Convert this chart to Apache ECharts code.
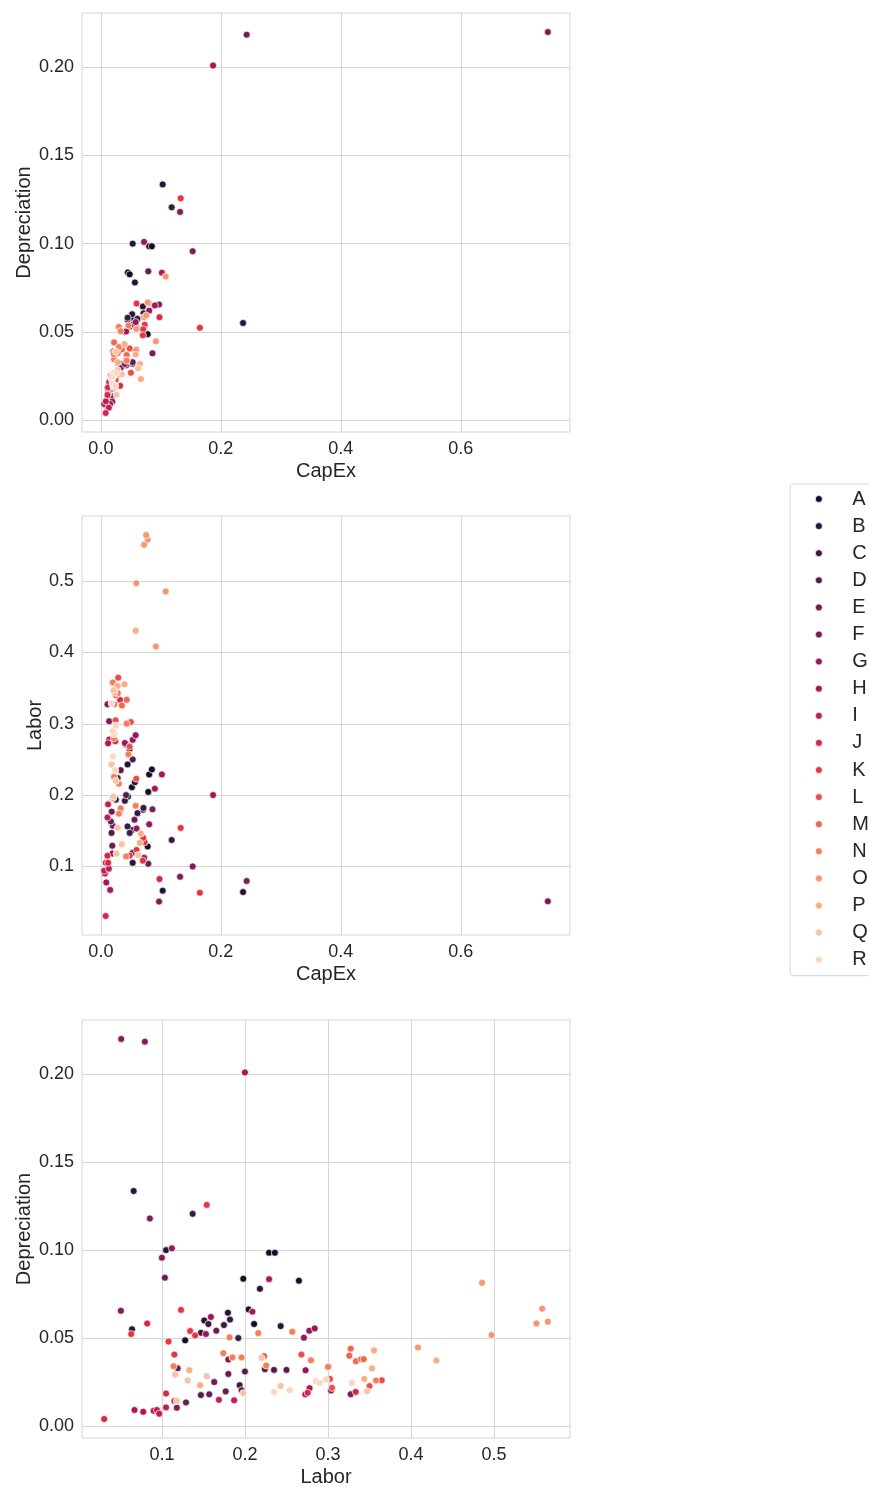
<!DOCTYPE html>
<html>
<head>
<meta charset="utf-8">
<script src="https://cdn.jsdelivr.net/npm/echarts@6/dist/echarts.min.js"></script>
<style>
  html, body { margin: 0; padding: 0; background: #ffffff; }
  #chart { width: 869px; height: 1488px; }
</style>
</head>
<body>
<div id="chart"></div>
<script>
// Category names and the "rocket" palette used for the hue
const categories = ['A','B','C','D','E','F','G','H','I','J','K','L','M','N','O','P','Q','R'];
const palette = ['#150C27','#281435','#3B1A41','#511C4A','#671E53','#7D1D57','#931A58','#AA1759','#BD2052',
                 '#D12A49','#E23743','#E94F48','#EF684E','#F3805B','#F59772','#F6AE88','#F7C3A4','#F9D7C0'];

// Observations per category: [CapEx, Labor, Depreciation]
const A = [[0.0805,0.229,0.0985],[0.085,0.236,0.0985],[0.045,0.198,0.0837],[0.048,0.265,0.0826],
           [0.079,0.2045,0.0663],[0.078,0.128,0.0487],[0.0517,0.211,0.058]];
const B = [[0.103,0.066,0.1336],[0.237,0.064,0.055],[0.053,0.105,0.100],[0.0567,0.218,0.078],
           [0.070,0.1795,0.0644],[0.0445,0.243,0.0568],[0.052,0.151,0.060]];
const C = [[0.118,0.137,0.1206],[0.071,0.182,0.0605],[0.061,0.1747,0.0574],[0.0445,0.156,0.058],
           [0.048,0.147,0.053],[0.040,0.192,0.050],[0.025,0.1936,0.0232]];
const D = [[0.0178,0.147,0.0176],[0.042,0.200,0.031],[0.028,0.224,0.0323],[0.033,0.235,0.0319],
           [0.053,0.250,0.0319]];
const E = [[0.079,0.1036,0.0843],[0.053,0.119,0.0328],[0.020,0.157,0.018],[0.056,0.1655,0.0542],
           [0.0167,0.163,0.025],[0.033,0.180,0.0296],[0.020,0.196,0.0204],[0.018,0.1768,0.0197],
           [0.019,0.129,0.0134]];
const F = [[0.745,0.051,0.220],[0.243,0.0795,0.2185],[0.132,0.0855,0.118],[0.153,0.100,0.0957],
           [0.097,0.0506,0.0655],[0.086,0.180,0.0378],[0.019,0.118,0.0104],[0.011,0.3273,0.0181],
           [0.0138,0.3036,0.0202]];
const G = [[0.072,0.112,0.101],[0.0805,0.159,0.062],[0.0595,0.153,0.0523],[0.042,0.271,0.0502],
           [0.053,0.2775,0.0542],[0.058,0.284,0.0555],[0.040,0.273,0.0317]];
const H = [[0.187,0.200,0.201],[0.1017,0.229,0.0835],[0.090,0.209,0.065],[0.014,0.2778,0.0215],
           [0.012,0.2727,0.018],[0.0155,0.067,0.0091],[0.009,0.0775,0.0081]];
const I = [[0.0067,0.090,0.0087],[0.0055,0.094,0.0091],[0.0083,0.105,0.0106],[0.0133,0.0968,0.007],
           [0.011,0.1686,0.0149],[0.012,0.187,0.0146]];
const J = [[0.008,0.0305,0.004],[0.0977,0.0823,0.0583],[0.012,0.105,0.0185],[0.011,0.115,0.0142],
           [0.024,0.2755,0.0189],[0.032,0.3334,0.0194]];
const K = [[0.133,0.154,0.1257],[0.165,0.063,0.0523],[0.0595,0.123,0.066],[0.073,0.134,0.054],
           [0.0705,0.140,0.0515],[0.070,0.108,0.048],[0.048,0.115,0.0406]];
const L = [[0.059,0.223,0.0397],[0.048,0.268,0.0406],[0.043,0.3008,0.0338],[0.050,0.3024,0.0268],
           [0.0245,0.3048,0.0217],[0.0245,0.350,0.0227],[0.029,0.3647,0.026]];
const M = [[0.022,0.3273,0.044],[0.035,0.3257,0.040],[0.043,0.3337,0.0368],[0.025,0.340,0.038],
           [0.028,0.343,0.038]];
const N = [[0.042,0.114,0.034],[0.030,0.216,0.0528],[0.046,0.257,0.0536],[0.033,0.1815,0.0504],
           [0.030,0.174,0.0414],[0.058,0.185,0.039],[0.0205,0.196,0.039],[0.022,0.2256,0.0344],
           [0.0217,0.2795,0.0374],[0.043,0.300,0.0336],[0.020,0.3578,0.0259]];
const O = [[0.108,0.4855,0.0814],[0.078,0.558,0.0667],[0.072,0.551,0.0583],[0.0755,0.5647,0.0593],
           [0.059,0.497,0.0517],[0.0917,0.4084,0.0446]];
const P = [[0.0395,0.3554,0.043],[0.028,0.353,0.0328],[0.023,0.3437,0.0268],[0.058,0.4305,0.0372],
           [0.0667,0.146,0.0232],[0.065,0.133,0.0317]];
const Q = [[0.062,0.116,0.0293],[0.035,0.131,0.0259],[0.028,0.154,0.0283],[0.026,0.118,0.0143],
           [0.025,0.220,0.0387],[0.021,0.198,0.0187],[0.018,0.243,0.0228],[0.021,0.347,0.0198]];
const R = [[0.020,0.254,0.0204],[0.024,0.235,0.0193],[0.022,0.2855,0.0255],[0.020,0.290,0.0245],
           [0.025,0.2976,0.0265],[0.018,0.3286,0.0245]];

const groups = { A, B, C, D, E, F, G, H, I, J, K, L, M, N, O, P, Q, R };

// Tick values for each variable
const capexTicks = [0.0, 0.2, 0.4, 0.6];
const laborTicks = [0.1, 0.2, 0.3, 0.4, 0.5];
const depTicks = [0.00, 0.05, 0.10, 0.15, 0.20];

// Column indices within each observation
const CAPEX = 0, LABOR = 1, DEP = 2;

// Axis limits: data extent padded by 5% on each side
function paddedRange(col) {
  let lo = Infinity, hi = -Infinity;
  categories.forEach(c => groups[c].forEach(r => { lo = Math.min(lo, r[col]); hi = Math.max(hi, r[col]); }));
  const pad = (hi - lo) * 0.05;
  return [lo - pad, hi + pad];
}
const ranges = [paddedRange(CAPEX), paddedRange(LABOR), paddedRange(DEP)];

const TEXT = '#262626';
const GRIDLINE = '#d5d5d5';
const FONT = 'Liberation Sans, Arial, sans-serif';

function valueAxis(gridIndex, col, ticks, digits, name, nameGap, labelMargin) {
  return {
    type: 'value',
    gridIndex,
    min: ranges[col][0],
    max: ranges[col][1],
    name,
    nameLocation: 'middle',
    nameGap,
    nameMoveOverlap: false,
    nameTextStyle: { fontSize: 20, color: TEXT, fontFamily: FONT },
    axisLine: { show: false },
    axisTick: { show: false, customValues: ticks },
    axisLabel: {
      customValues: ticks,
      formatter: v => Number(v).toFixed(digits),
      fontSize: 18,
      color: TEXT,
      fontFamily: FONT,
      margin: labelMargin
    },
    splitLine: { show: true, lineStyle: { color: GRIDLINE, width: 1 } }
  };
}

const grids = [
  { left: 82, top: 13, width: 488, height: 419 },
  { left: 82, top: 516, width: 488, height: 419 },
  { left: 82, top: 1020, width: 488, height: 418 }
].map(g => Object.assign(g, { show: true, borderColor: GRIDLINE, borderWidth: 1, backgroundColor: '#ffffff' }));

const xAxes = [
  valueAxis(0, CAPEX, capexTicks, 1, 'CapEx', 29, 8),
  valueAxis(1, CAPEX, capexTicks, 1, 'CapEx', 29, 8),
  valueAxis(2, LABOR, laborTicks, 1, 'Labor', 29, 8)
];
const yAxes = [
  valueAxis(0, DEP, depTicks, 2, 'Depreciation', 48, 8),
  valueAxis(1, LABOR, laborTicks, 1, 'Labor', 37, 8),
  valueAxis(2, DEP, depTicks, 2, 'Depreciation', 48, 8)
];

// Panel pairs: [x column, y column]
const panels = [[CAPEX, DEP], [CAPEX, LABOR], [LABOR, DEP]];

const series = [];
panels.forEach((pair, p) => {
  categories.forEach((c, i) => {
    series.push({
      type: 'scatter',
      name: c,
      xAxisIndex: p,
      yAxisIndex: p,
      symbol: 'circle',
      symbolSize: 7,
      itemStyle: { color: palette[i], borderColor: '#ffffff', borderWidth: 0.7, opacity: 1 },
      emphasis: { disabled: true },
      data: groups[c].map(r => [r[pair[0]], r[pair[1]]])
    });
  });
});

const chart = echarts.init(document.getElementById('chart'), null, { renderer: 'canvas' });
chart.setOption({
  animation: false,
  backgroundColor: '#ffffff',
  textStyle: { fontFamily: FONT },
  grid: grids,
  xAxis: xAxes,
  yAxis: yAxes,
  legend: {
    data: categories.map((c, i) => ({ name: c, itemStyle: { color: palette[i], borderColor: '#ffffff', borderWidth: 0.7 } })),
    orient: 'vertical',
    left: 790,
    top: 484,
    icon: 'circle',
    itemWidth: 7,
    itemHeight: 7,
    itemGap: 7.1,
    padding: [5, 16, 6, 25],
    borderColor: '#d6d6d6',
    borderWidth: 1,
    borderRadius: 3,
    backgroundColor: '#ffffff',
    selectedMode: false,
    formatter: '{t|{name}}',
    textStyle: {
      fontSize: 20, color: TEXT, fontFamily: FONT, lineHeight: 18,
      rich: { t: { fontSize: 20, color: TEXT, fontFamily: FONT, lineHeight: 18, padding: [0, 0, 0, 25] } }
    }
  },
  series
});
</script>
</body>
</html>
